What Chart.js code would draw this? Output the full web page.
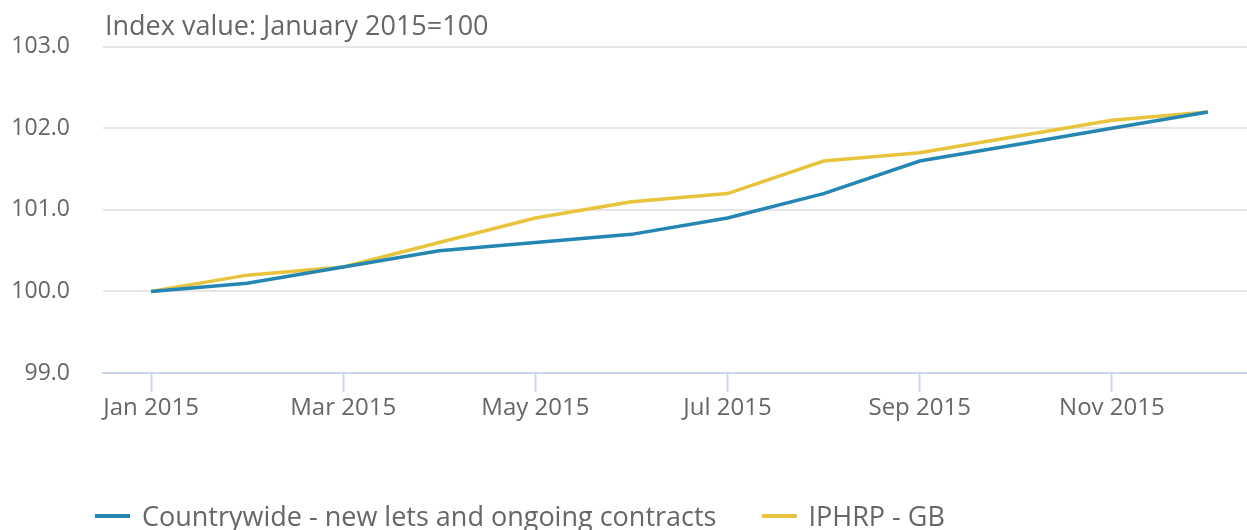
<!DOCTYPE html>
<html>
<head>
<meta charset="utf-8">
<script src="https://cdn.jsdelivr.net/npm/chart.js@4/dist/chart.umd.min.js"></script>
<style>
  html, body { margin: 0; padding: 0; background: #fff; overflow: hidden; }
  #wrap { position: relative; width: 1247px; height: 530px; overflow: hidden; }
  #box { position: absolute; left: 0; top: 0; width: 1256px; height: 530px; }
  #legend { position: absolute; left: 95px; top: 497px; display: flex; font-family: "Open Sans", sans-serif;
            font-size: 27px; color: #666; }
  .item { display: flex; align-items: center; margin-right: 45px; }
  .sym { width: 35px; height: 4px; margin-right: 12px; }
</style>
</head>
<body>
<div id="wrap">
  <div id="box"><canvas id="c"></canvas></div>
  <div id="legend"></div>
</div>
<script>
// data
const months = ['Jan 2015','Feb 2015','Mar 2015','Apr 2015','May 2015','Jun 2015',
                'Jul 2015','Aug 2015','Sep 2015','Oct 2015','Nov 2015','Dec 2015'];
const countrywide = [100.0, 100.1, 100.3, 100.5, 100.6, 100.7, 100.9, 101.2, 101.6, 101.8, 102.0, 102.2];
const iphrp = [100.0, 100.2, 100.3, 100.6, 100.9, 101.1, 101.2, 101.6, 101.7, 101.9, 102.1, 102.2];
const yTicks = [99, 100, 101, 102, 103];
const seriesNames = ['Countrywide - new lets and ongoing contracts', 'IPHRP - GB'];
const colors = ['#2386b3', '#e8c43c'];

const FONT = '"Open Sans", sans-serif';

// title drawn at the left edge of the plot area
const titlePlugin = {
  id: 'topTitle',
  afterDraw(chart) {
    const c = chart.ctx;
    c.save();
    c.font = '27px ' + FONT;
    c.fillStyle = '#666';
    c.textBaseline = 'middle';
    c.fillText('Index value: January 2015=100', chart.chartArea.left + 2, 27);
    c.restore();
  }
};

const ctx = document.getElementById('c').getContext('2d');
const chart = new Chart(ctx, {
  type: 'line',
  data: {
    labels: months,
    datasets: [
      { label: seriesNames[0], data: countrywide, borderColor: colors[0], backgroundColor: colors[0] },
      { label: seriesNames[1], data: iphrp, borderColor: colors[1], backgroundColor: colors[1] }
    ]
  },
  options: {
    responsive: true,
    maintainAspectRatio: false,
    animation: false,
    layout: { padding: { top: 45, left: 10, right: 0, bottom: 0 } },
    elements: {
      line: { borderWidth: 3.5, tension: 0 },
      point: { radius: 0 }
    },
    scales: {
      x: {
        offset: true,
        grid: {
          offset: false,
          drawOnChartArea: false,
          tickLength: 19,
          tickWidth: 2,
          color: c => (c.index % 2 === 0 ? '#ccd6eb' : 'rgba(0,0,0,0)')
        },
        border: { color: '#ccd6eb', width: 2 },
        ticks: {
          autoSkip: false,
          maxRotation: 0,
          padding: 2,
          color: '#666',
          font: { family: FONT, size: 24 },
          callback: (v, i) => (i % 2 === 0 ? months[i] : '')
        },
        afterFit: s => { s.height = 157; }
      },
      y: {
        min: yTicks[0],
        max: yTicks[yTicks.length - 1],
        afterBuildTicks: s => { s.ticks = yTicks.map(v => ({ value: v })); },
        grid: { color: '#e6e6e6', lineWidth: 2, drawTicks: false },
        border: { display: false },
        ticks: {
          padding: 33,
          color: '#666',
          font: { family: FONT, size: 23 },
          callback: v => v.toFixed(1)
        },
        afterFit: s => { s.width = 93; }
      }
    },
    plugins: {
      legend: { display: false },
      tooltip: { enabled: false }
    }
  },
  plugins: [titlePlugin]
});

// html legend
const lg = document.getElementById('legend');
chart.data.datasets.forEach(ds => {
  const it = document.createElement('div');
  it.className = 'item';
  it.innerHTML = '<span class="sym" style="background:' + ds.borderColor + '"></span><span>' + ds.label + '</span>';
  lg.appendChild(it);
});
</script>
</body>
</html>
